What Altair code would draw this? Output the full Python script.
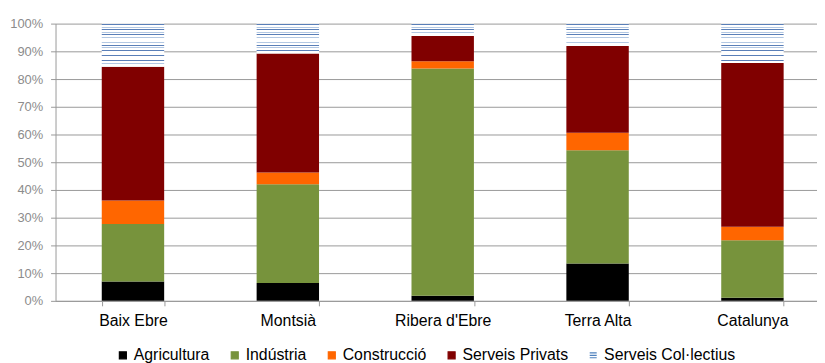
import altair as alt
import pandas as pd

regions = ["Baix Ebre", "Montsià", "Ribera d'Ebre", "Terra Alta", "Catalunya"]
sectors = ["Agricultura", "Indústria", "Construcció", "Serveis Privats", "Serveis Col·lectius"]
agricultura = [7.0, 6.4, 1.8, 13.5, 1.1]
industria = [20.7, 35.7, 82.0, 40.8, 20.8]
construccio = [8.5, 4.2, 2.6, 6.3, 4.8]
serveis_privats = [48.2, 42.9, 9.1, 31.3, 59.1]
serveis_collectius = [15.6, 10.8, 4.5, 8.1, 14.2]
colors = ["#000000", "#77933C", "#FF6600", "#800000", "#4F81BD"]
y_ticks = [0, 10, 20, 30, 40, 50, 60, 70, 80, 90, 100]

series = [agricultura, industria, construccio, serveis_privats, serveis_collectius]
rows = []
for si, (s, vals) in enumerate(zip(sectors, series)):
    for r, v in zip(regions, vals):
        rows.append({"region": r, "sector": s, "value": v, "order": si})
df = pd.DataFrame(rows)

PLOT_H = 280
PLOT_W = 769
FONT = "Liberation Sans"
HATCH = sectors[4]
HATCH_SYMBOL = "M-1,-0.7H1M-1,0H1M-1,0.7H1"
shapes = ["square", "square", "square", "square", HATCH_SYMBOL]

base = alt.Chart(df).transform_stack(
    stack="value", groupby=["region"], as_=["y0", "y1"],
    sort=[alt.SortField("order", order="ascending")]
)

xenc = alt.X("region:N", sort=regions, title=None,
             scale=alt.Scale(range=[0, 782], paddingInner=0.597, paddingOuter=0.2985),
             axis=alt.Axis(labelAngle=0, labelFontSize=16, labelColor="#000000", labelFont=FONT,
                           domainColor="#999999", tickColor="#999999", tickSize=5,
                           tickBand="extent", labelPadding=7, grid=False))
yenc = alt.Y("y0:Q", title=None,
             scale=alt.Scale(domain=[0, 100], nice=False),
             axis=alt.Axis(values=y_ticks, labelExpr="datum.value + '%'", labelFontSize=13,
                           labelColor="#8C8C8C", labelFont=FONT, gridColor="#999999",
                           domainColor="#999999", tickColor="#999999", tickSize=5,
                           labelPadding=8))

legend = alt.Legend(
    title=None, orient="none", direction="horizontal", legendX=60, legendY=327,
    labelFontSize=16, labelFont=FONT, labelColor="#000000", symbolSize=50,
    symbolOpacity=1, symbolStrokeWidth=1.2, columnPadding=17, labelOffset=3,
)
color_scale = alt.Scale(domain=sectors, range=colors)

solid = base.transform_filter(alt.datum.sector != HATCH).mark_bar().encode(
    x=xenc, y=yenc, y2="y1:Q",
    color=alt.Color("sector:N", scale=color_scale, legend=legend),
)

legend_layer = base.mark_point(filled=True, opacity=0).encode(
    x=xenc, y=yenc,
    color=alt.Color("sector:N", scale=color_scale, legend=legend),
    stroke=alt.Stroke("sector:N", scale=color_scale, legend=legend),
    shape=alt.Shape("sector:N", scale=alt.Scale(domain=sectors, range=shapes), legend=legend),
)

layers = [solid]
dark = "#5A7FB8"
light = "#B3C8E3"
for r, v in zip(regions, serveis_collectius):
    h = v / 100 * PLOT_H
    period = 2.6
    n = int(h / period)
    stops = [alt.GradientStop(offset=0, color="#FFFFFF")]
    for i in range(n):
        a = (i * period + 0.6) / h
        b = (i * period + 1.4) / h
        col = dark if i % 2 == 0 else light
        stops += [alt.GradientStop(offset=a, color="#FFFFFF"),
                  alt.GradientStop(offset=a, color=col),
                  alt.GradientStop(offset=b, color=col),
                  alt.GradientStop(offset=b, color="#FFFFFF")]
    stops.append(alt.GradientStop(offset=1, color="#FFFFFF"))
    grad = alt.Gradient(gradient="linear", stops=stops, x1=0, x2=0, y1=0, y2=1)
    layer = base.transform_filter(
        (alt.datum.sector == HATCH) & (alt.datum.region == r)
    ).mark_bar(fill=grad).encode(x=xenc, y=yenc, y2="y1:Q")
    layers.append(layer)
layers.append(legend_layer)

chart = alt.layer(*layers).properties(
    width=PLOT_W, height=PLOT_H,
    autosize=alt.AutoSizeParams(type="none"),
    padding={"left": 48, "top": 14, "right": 0, "bottom": 61},
).configure_view(stroke=None).configure_axis(labelFont=FONT)

chart.save("out.html", embed_options={"renderer": "svg", "actions": False})
